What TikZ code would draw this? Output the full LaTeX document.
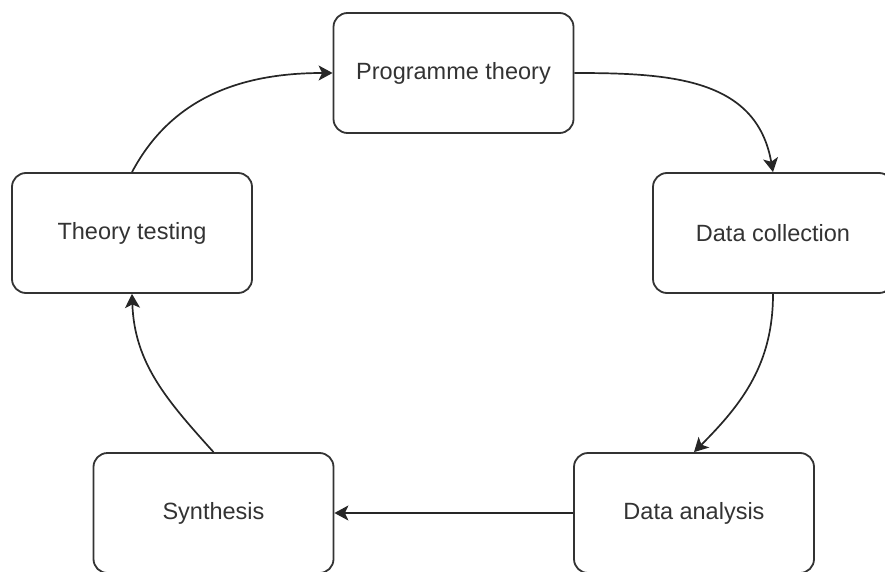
\documentclass[tikz,border=0pt]{standalone}
\usepackage{fontspec}
\setmainfont{Liberation Sans}
\usetikzlibrary{arrows.meta}
\definecolor{ink}{HTML}{333333}
\tikzset{
  stage/.style={draw=ink, line width=1.8pt, rounded corners=14pt, fill=white,
    minimum width=240pt, minimum height=120pt, inner sep=0pt,
    text=ink, font=\fontsize{23.5}{27}\selectfont},
  flow/.style={draw=black!85, line width=1.7pt, -{Stealth[length=14pt,width=15pt,inset=3.5pt]}}
}
\begin{document}
\begin{tikzpicture}[x=1pt,y=1pt]
\useasboundingbox (0,0) rectangle (885,571);
\node[stage] (pt) at (453.5,498) {Programme theory};
\node[stage] (dc) at (773,338) {Data collection};
\node[stage] (da) at (694,58) {Data analysis};
\node[stage] (sy) at (213.5,58) {Synthesis};
\node[stage] (tt) at (132,338) {Theory testing};
\draw[flow] (tt.north) to[out=62,in=180] (pt.west);
\draw[flow] (pt.east) to[out=0,in=100,looseness=1.1] (dc.north);
\draw[flow] (dc.south) to[out=-90,in=45] (da.north);
\draw[flow] (da.west) -- (sy.east);
\draw[flow] (sy.north) to[out=132,in=-88] (tt.south);
\end{tikzpicture}
\end{document}
